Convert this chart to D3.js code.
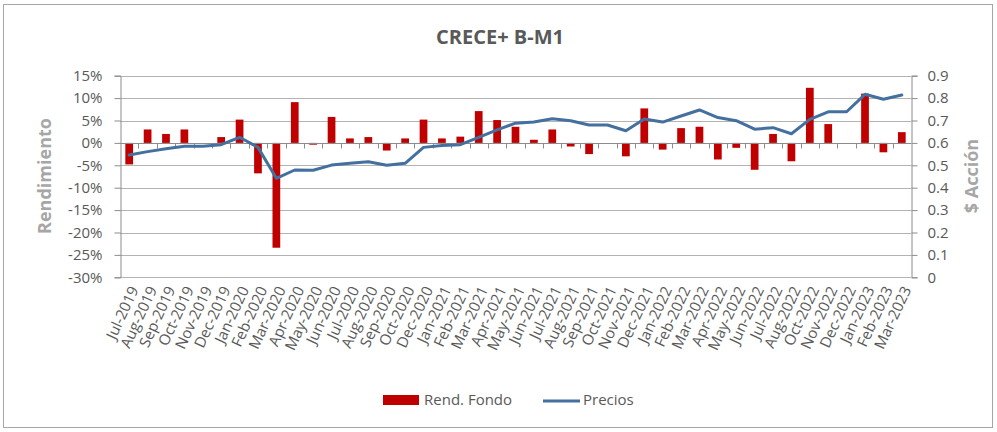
<!DOCTYPE html>
<html>
<head>
<meta charset="utf-8">
<script src="https://cdn.jsdelivr.net/npm/d3@7"></script>
<style>
  html, body { margin: 0; padding: 0; background: #fff; }
  svg { display: block; }
  text { font-family: "Open Sans", sans-serif; }
</style>
</head>
<body>
<svg id="chart" width="997" height="432"></svg>
<script>
const categories = ["Jul-2019","Aug-2019","Sep-2019","Oct-2019","Nov-2019","Dec-2019","Jan-2020","Feb-2020","Mar-2020","Apr-2020","May-2020","Jun-2020","Jul-2020","Aug-2020","Sep-2020","Oct-2020","Dec-2020","Jan-2021","Feb-2021","Mar-2021","Apr-2021","May-2021","Jun-2021","Jul-2021","Aug-2021","Sep-2021","Oct-2021","Nov-2021","Dec-2021","Jan-2022","Feb-2022","Mar-2022","Apr-2022","May-2022","Jun-2022","Jul-2022","Aug-2022","Oct-2022","Nov-2022","Dec-2022","Jan-2023","Feb-2023","Mar-2023"];

// Rend. Fondo (monthly return, %)
const rendFondo = [-4.8, 3.0, 2.0, 3.0, 0, 1.3, 5.2, -6.8, -23.4, 9.1, -0.4, 5.8, 1.0, 1.3, -1.7, 1.0, 5.2, 1.0, 1.4, 7.1, 5.1, 3.6, 0.7, 3.0, -0.8, -2.5, 0, -3.0, 7.7, -1.5, 3.3, 3.6, -3.7, -1.1, -6.0, 2.0, -4.1, 12.3, 4.2, 0, 11.0, -2.1, 2.4];

// Precios ($ per share)
const precios = [0.546, 0.561, 0.574, 0.585, 0.585, 0.592, 0.625, 0.580, 0.442, 0.479, 0.478, 0.501, 0.509, 0.516, 0.500, 0.509, 0.580, 0.588, 0.592, 0.625, 0.658, 0.688, 0.693, 0.708, 0.699, 0.680, 0.680, 0.654, 0.707, 0.693, 0.720, 0.747, 0.713, 0.699, 0.661, 0.668, 0.641, 0.705, 0.739, 0.739, 0.817, 0.795, 0.814];

const leftTicks = [15, 10, 5, 0, -5, -10, -15, -20, -25, -30];
const rightTicks = [0.9, 0.8, 0.7, 0.6, 0.5, 0.4, 0.3, 0.2, 0.1, 0];

const title = "CRECE+ B-M1";
const leftTitle = "Rendimiento";
const rightTitle = "$ Acción";
const legendBar = "Rend. Fondo";
const legendLine = "Precios";

const svg = d3.select("#chart");
const plot = { left: 120, right: 911, top: 75.7, bottom: 277.3 };

const textColor = "#595959";
const axisColor = "#8c8c8c";
const gridColor = "#b3b3b3";
const barColor = "#c00000";
const lineColor = "#43709f";

// Outer border
svg.append("rect").attr("x", 3.5).attr("y", 4.5).attr("width", 989).attr("height", 423)
  .attr("fill", "#fff").attr("stroke", "#a6a6a6").attr("stroke-width", 1);

const x = d3.scaleBand().domain(categories).range([plot.left, plot.right]).paddingInner(0).paddingOuter(0);
const yL = d3.scaleLinear().domain([-30, 15]).range([plot.bottom, plot.top]);
const yR = d3.scaleLinear().domain([0, 0.9]).range([plot.bottom, plot.top]);

// Gridlines
svg.append("g").selectAll("line").data(leftTicks).join("line")
  .attr("x1", plot.left).attr("x2", plot.right)
  .attr("y1", d => Math.round(yL(d)) + 0.5).attr("y2", d => Math.round(yL(d)) + 0.5)
  .attr("stroke", gridColor).attr("stroke-width", 1);

// Left axis
const leftAxis = d3.axisLeft(yL).tickValues(leftTicks).tickSize(6).tickPadding(12)
  .tickFormat(d => d + "%");
const gL = svg.append("g").attr("transform", `translate(${plot.left + 0.5},0)`).call(leftAxis);
gL.select(".domain").attr("stroke", axisColor);
gL.selectAll(".tick line").attr("stroke", axisColor);
gL.selectAll(".tick text").attr("fill", textColor).style("font-size", "15px")
  .style("font-family", "'Open Sans', sans-serif");

// Right axis
const rightAxis = d3.axisRight(yR).tickValues(rightTicks).tickSize(6).tickPadding(10)
  .tickFormat(d => d === 0 ? "0" : d3.format(".1f")(d));
const gR = svg.append("g").attr("transform", `translate(${plot.right + 0.5},0)`).call(rightAxis);
gR.select(".domain").attr("stroke", axisColor);
gR.selectAll(".tick line").attr("stroke", axisColor);
gR.selectAll(".tick text").attr("fill", textColor).style("font-size", "15px")
  .style("font-family", "'Open Sans', sans-serif");

// Bars
const bw = x.bandwidth() * 0.42;
svg.append("g").selectAll("rect").data(categories).join("rect")
  .attr("x", (d, i) => x(d) + x.bandwidth() / 2 - bw / 2)
  .attr("width", bw)
  .attr("y", (d, i) => Math.min(yL(rendFondo[i]), yL(0)))
  .attr("height", (d, i) => Math.abs(yL(rendFondo[i]) - yL(0)))
  .attr("fill", barColor);

// Zero axis with category ticks
const zeroY = Math.round(yL(0)) + 0.5;
svg.append("line").attr("x1", plot.left).attr("x2", plot.right)
  .attr("y1", zeroY).attr("y2", zeroY).attr("stroke", axisColor);
svg.append("g").selectAll("line").data(d3.range(1, categories.length)).join("line")
  .attr("x1", i => Math.round(plot.left + i * x.bandwidth()) + 0.5)
  .attr("x2", i => Math.round(plot.left + i * x.bandwidth()) + 0.5)
  .attr("y1", zeroY).attr("y2", zeroY + 5)
  .attr("stroke", axisColor);

// Line
const line = d3.line()
  .x((d, i) => x(categories[i]) + x.bandwidth() / 2)
  .y(d => yR(d));
svg.append("path").datum(precios).attr("d", line)
  .attr("fill", "none").attr("stroke", lineColor).attr("stroke-width", 3)
  .attr("stroke-linejoin", "round").attr("stroke-linecap", "round");

// X labels (rotated)
svg.append("g").selectAll("text").data(categories).join("text")
  .attr("transform", d => `translate(${x(d) + x.bandwidth() / 2 + 5},${plot.bottom + 10}) rotate(-65)`)
  .attr("text-anchor", "end")
  .attr("dy", "0.35em")
  .attr("fill", textColor)
  .style("font-size", "15px")
  .text(d => d);

// Title
svg.append("text").attr("x", 500).attr("y", 44).attr("text-anchor", "middle")
  .attr("fill", textColor).style("font-size", "20px").style("font-weight", "bold")
  .text(title);

// Axis titles
svg.append("text").attr("transform", `translate(51,176) rotate(-90)`)
  .attr("text-anchor", "middle").attr("fill", "#a6a6a6")
  .style("font-size", "18px").style("font-weight", "bold").text(leftTitle);
svg.append("text").attr("transform", `translate(978,176) rotate(-90)`)
  .attr("text-anchor", "middle").attr("fill", "#a6a6a6")
  .style("font-size", "18px").style("font-weight", "bold").text(rightTitle);

// Legend
const lg = svg.append("g");
lg.append("rect").attr("x", 383).attr("y", 395).attr("width", 36).attr("height", 10).attr("fill", barColor);
lg.append("text").attr("x", 424).attr("y", 405).attr("fill", textColor).style("font-size", "15px").text(legendBar);
lg.append("line").attr("x1", 543).attr("x2", 580).attr("y1", 401).attr("y2", 401)
  .attr("stroke", lineColor).attr("stroke-width", 3);
lg.append("text").attr("x", 583).attr("y", 405).attr("fill", textColor).style("font-size", "15px").text(legendLine);
</script>
</body>
</html>
